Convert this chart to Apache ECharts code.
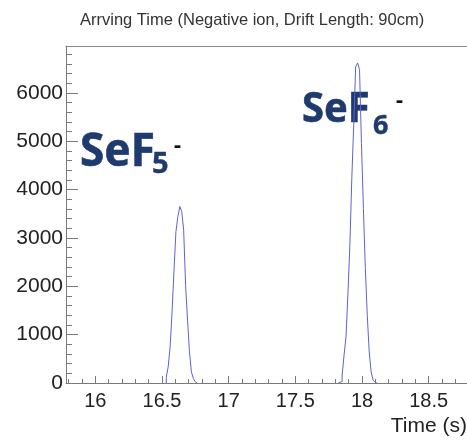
<!DOCTYPE html>
<html>
<head>
<meta charset="utf-8">
<script src="https://cdn.jsdelivr.net/npm/echarts@6/dist/echarts.min.js"></script>
<style>html,body{margin:0;padding:0;background:#fff;}#c{width:467px;height:441px;}</style>
</head>
<body>
<div id="c"></div>
<script>
// ---- data ----
const titleText = 'Arrving Time (Negative ion, Drift Length: 90cm)';
const xAxisName = 'Time (s)';
const xMajorTicks = [16, 16.5, 17, 17.5, 18, 18.5];
const yMajorTicks = [0, 1000, 2000, 3000, 4000, 5000, 6000];
const binWidth = 0.0145;
const peak1Start = 16.532;   // SeF5- peak, left edge of first bin (s)
const peak1Counts = [120, 335, 750, 1470, 2330, 3130, 3440, 3650, 3550, 3160, 2020, 1300, 645, 230, 95, 25];
const peak2Start = 17.822;   // SeF6- peak
const peak2Counts = [10, 30, 165, 580, 955, 1850, 2850, 4230, 5340, 6540, 6620, 6480, 4950, 3610, 2370, 1400, 645, 230, 60, 15];
const xMin = 15.78, xMax = 18.81, yMin = 0, yMax = 6970;

// minor tick positions
const xMinorTicks = [];
for (let k = 158; k <= 188; k++) xMinorTicks.push(+(k / 10).toFixed(1));
const yMinorTicks = [];
for (let v = 0; v <= 6800; v += 200) yMinorTicks.push(v);

// histogram outline vertices (bin edges -> step shape)
function histPoints(start, counts) {
  const pts = [[start, 0]];
  counts.forEach((c, i) => {
    const l = +(start + i * binWidth).toFixed(4);
    const r = +(start + (i + 1) * binWidth).toFixed(4);
    pts.push([l, c]);
    pts.push([r, c]);
  });
  pts.push([+(start + counts.length * binWidth).toFixed(4), 0]);
  return pts;
}

const axisGray = '#7a7a7a';
const labelFont = 'Liberation Sans, Arial, Helvetica, sans-serif';
const navy = '#1e3a6e';
const annFont = '"Noto Sans", "Open Sans", sans-serif';
const histColor = '#6060d4';

const chart = echarts.init(document.getElementById('c'), null, {renderer: 'canvas'});
chart.setOption({
  animation: false,
  backgroundColor: '#fff',
  title: {
    text: titleText, left: 80, top: 12, padding: 0,
    textStyle: {fontFamily: labelFont, fontSize: 16.5, fontWeight: 'normal', color: '#333'}
  },
  grid: {left: 66, top: 46, width: 404, height: 337, outerBoundsMode: 'none', containLabel: false, show: false},
  xAxis: [
    {
      type: 'value', min: xMin, max: xMax, position: 'bottom',
      axisLine: {show: true, lineStyle: {color: axisGray, width: 1}},
      axisTick: {show: true, inside: true, length: 7, customValues: xMajorTicks, lineStyle: {color: axisGray}},
      axisLabel: {show: true, customValues: xMajorTicks, fontFamily: labelFont, fontSize: 20, color: '#222', margin: 8},
      splitLine: {show: false}
    },
    {
      type: 'value', min: xMin, max: xMax, position: 'bottom', offset: 0,
      axisLine: {show: false},
      axisTick: {show: true, inside: true, length: 4, customValues: xMinorTicks, lineStyle: {color: axisGray}},
      axisLabel: {show: false},
      splitLine: {show: false}
    },
    {
      type: 'value', min: xMin, max: xMax, position: 'top', offset: 0,
      axisLine: {show: true, lineStyle: {color: '#8a8a8a', width: 1}},
      axisTick: {show: false}, axisLabel: {show: false}, splitLine: {show: false}
    }
  ],
  yAxis: [
    {
      type: 'value', min: yMin, max: yMax, position: 'left',
      axisLine: {show: true, lineStyle: {color: axisGray, width: 1}},
      axisTick: {show: true, inside: true, length: 12, customValues: yMajorTicks, lineStyle: {color: axisGray}},
      axisLabel: {show: true, customValues: yMajorTicks, formatter: v => String(v),
                  fontFamily: labelFont, fontSize: 21, color: '#222', margin: 3},
      splitLine: {show: false}
    },
    {
      type: 'value', min: yMin, max: yMax, position: 'left', offset: 0,
      axisLine: {show: false},
      axisTick: {show: true, inside: true, length: 6, customValues: yMinorTicks, lineStyle: {color: axisGray}},
      axisLabel: {show: false},
      splitLine: {show: false}
    }
  ],
  series: [
    {type: 'line', symbol: 'none', xAxisIndex: 0, yAxisIndex: 0,
     data: histPoints(peak1Start, peak1Counts), lineStyle: {color: histColor, width: 1}},
    {type: 'line', symbol: 'none', xAxisIndex: 0, yAxisIndex: 0,
     data: histPoints(peak2Start, peak2Counts), lineStyle: {color: histColor, width: 1}}
  ],
  graphic: [
    {type: 'text', x: 467, y: 426, style: {text: xAxisName, fontFamily: labelFont, fontSize: 21, fill: '#222', align: 'right', verticalAlign: 'middle'}},
    // SeF5-
    {type: 'text', x: 80, y: 153, scaleX: 0.96, style: {text: 'SeF', fontFamily: annFont, fontWeight: 'bold', fontSize: 46, fill: navy, stroke: navy, lineWidth: 0.6, align: 'left', verticalAlign: 'middle'}},
    {type: 'text', x: 152, y: 165, style: {text: '5', fontFamily: annFont, fontWeight: 'bold', fontSize: 29, fill: navy, stroke: navy, lineWidth: 0.4, align: 'left', verticalAlign: 'middle'}},
    {type: 'text', x: 174, y: 146, style: {text: '-', fontFamily: annFont, fontWeight: 'bold', fontSize: 22, fill: '#111', align: 'left', verticalAlign: 'middle'}},
    // SeF6-
    {type: 'text', x: 302, y: 110, scaleX: 0.95, style: {text: 'SeF', fontFamily: annFont, fontWeight: 'bold', fontSize: 42, fill: navy, stroke: navy, lineWidth: 0.6, align: 'left', verticalAlign: 'middle'}},
    {type: 'text', x: 373, y: 126, style: {text: '6', fontFamily: annFont, fontWeight: 'bold', fontSize: 27, fill: navy, stroke: navy, lineWidth: 0.4, align: 'left', verticalAlign: 'middle'}},
    {type: 'text', x: 396, y: 101, style: {text: '-', fontFamily: annFont, fontWeight: 'bold', fontSize: 22, fill: '#111', align: 'left', verticalAlign: 'middle'}}
  ]
});
</script>
</body>
</html>
